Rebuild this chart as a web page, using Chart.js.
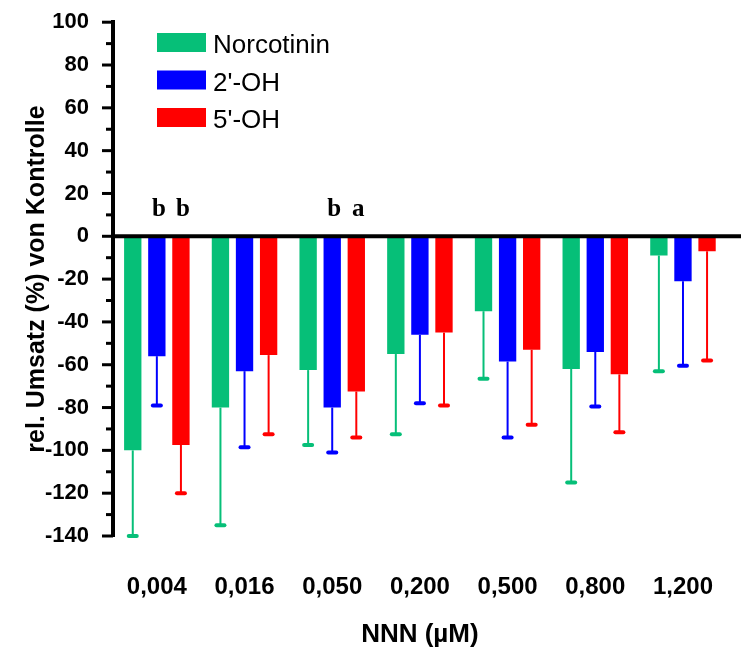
<!DOCTYPE html>
<html>
<head>
<meta charset="utf-8">
<script src="https://cdn.jsdelivr.net/npm/chart.js@4.4.0/dist/chart.umd.min.js"></script>
<style>
  html, body { margin: 0; padding: 0; background: #fff; overflow: hidden; }
  #wrap { position: relative; width: 750px; height: 652px; }
</style>
</head>
<body>
<div id="wrap"><canvas id="umsatzChart"></canvas></div>
<script>
var doses = ["0,004", "0,016", "0,050", "0,200", "0,500", "0,800", "1,200"];

var norcotinin = [-100, -80, -62.5, -55, -35, -62, -9];
var hydroxy2   = [-56, -63, -80, -46, -58.5, -54, -21];
var hydroxy5   = [-97.5, -55.5, -72.5, -45, -53, -64.5, -7];

// Standardabweichung, nur nach unten gezeichnet
var sdNorcotinin = [40, 55, 35, 37.5, 31.5, 53, 54];
var sdHydroxy2   = [23, 35.5, 21, 32, 35.5, 25.5, 39.5];
var sdHydroxy5   = [22.5, 37, 21.5, 34, 35, 27, 51];

// Signifikanz-Buchstaben über den Balken
var sigNorcotinin = ["", "", "", "", "", "", ""];
var sigHydroxy2   = ["b", "", "b", "", "", "", ""];
var sigHydroxy5   = ["b", "", "a", "", "", "", ""];

var yTicks = { min: -140, max: 100, major: 20, minor: 10 };

var SANS = "'Liberation Sans', Arial, sans-serif";
var SERIF = "'Liberation Serif', 'Times New Roman', serif";

var extras = {
  id: 'extras',
  afterDatasetsDraw: function(chart) {
    var ctx = chart.ctx, y = chart.scales.y, area = chart.chartArea;
    ctx.save();

    // Fehlerbalken
    chart.data.datasets.forEach(function(ds, i) {
      chart.getDatasetMeta(i).data.forEach(function(bar, j) {
        var yEnd = y.getPixelForValue(ds.data[j] - ds.sd[j]);
        ctx.strokeStyle = ds.backgroundColor;
        ctx.lineWidth = 2;
        ctx.lineCap = 'butt';
        ctx.beginPath();
        ctx.moveTo(bar.x, bar.y);
        ctx.lineTo(bar.x, yEnd);
        ctx.stroke();
        ctx.lineWidth = 4;
        ctx.lineCap = 'round';
        ctx.beginPath();
        ctx.moveTo(bar.x - 4, yEnd);
        ctx.lineTo(bar.x + 4, yEnd);
        ctx.stroke();
      });
    });

    // Nulllinie
    var y0 = y.getPixelForValue(0);
    ctx.strokeStyle = '#000';
    ctx.lineCap = 'butt';
    ctx.lineWidth = 4;
    ctx.beginPath();
    ctx.moveTo(area.left, y0);
    ctx.lineTo(chart.width, y0);
    ctx.stroke();

    // Haupt- und Nebenstriche der y-Achse
    ctx.lineWidth = 3;
    y.ticks.forEach(function(t) {
      var py = y.getPixelForValue(t.value);
      var len = t.value % yTicks.major === 0 ? 11 : 7;
      ctx.beginPath();
      ctx.moveTo(area.left - len, py);
      ctx.lineTo(area.left, py);
      ctx.stroke();
    });

    // Buchstaben
    ctx.fillStyle = '#000';
    ctx.font = 'bold 25px ' + SERIF;
    ctx.textAlign = 'center';
    ctx.textBaseline = 'alphabetic';
    chart.data.datasets.forEach(function(ds, i) {
      chart.getDatasetMeta(i).data.forEach(function(bar, j) {
        if (ds.sig[j]) ctx.fillText(ds.sig[j], bar.x + 2, y0 - 20);
      });
    });

    // Legende
    ctx.font = '26px ' + SANS;
    ctx.textAlign = 'left';
    chart.data.datasets.forEach(function(ds, i) {
      var top = 33 + i * 37.5;
      ctx.fillStyle = ds.backgroundColor;
      ctx.fillRect(157, top, 49, 19);
      ctx.fillStyle = '#000';
      ctx.fillText(ds.label, 213, top + 20);
    });

    ctx.restore();
  }
};

var ctx = document.getElementById('umsatzChart');
var umsatzChart = new Chart(ctx, {
  type: 'bar',
  data: {
    labels: doses,
    datasets: [
      { label: 'Norcotinin', data: norcotinin, sd: sdNorcotinin, sig: sigNorcotinin, backgroundColor: '#06BF78' },
      { label: "2'-OH", data: hydroxy2, sd: sdHydroxy2, sig: sigHydroxy2, backgroundColor: '#0000FF' },
      { label: "5'-OH", data: hydroxy5, sd: sdHydroxy5, sig: sigHydroxy5, backgroundColor: '#FF0000' }
    ]
  },
  options: {
    responsive: true,
    maintainAspectRatio: false,
    animation: false,
    categoryPercentage: 0.824,
    barPercentage: 0.72,
    layout: { padding: { left: 18, right: 0, top: 8, bottom: 0 } },
    plugins: {
      legend: { display: false },
      tooltip: { enabled: false }
    },
    scales: {
      x: {
        grid: { display: false, drawTicks: false },
        border: { display: false },
        ticks: {
          color: '#000',
          font: { family: SANS, size: 24, weight: 'bold' },
          padding: 37,
          maxRotation: 0,
          autoSkip: false
        },
        title: {
          display: true,
          text: 'NNN (\u00b5M)',
          color: '#000',
          font: { family: SANS, size: 26, weight: 'bold' },
          padding: { top: 4, bottom: 2 }
        },
        afterFit: function(scale) { scale.height = 116; }
      },
      y: {
        min: yTicks.min,
        max: yTicks.max,
        // Striche selbst gezeichnet (unterschiedliche Längen), hier nur Abstand für die Beschriftung
        grid: { display: true, drawOnChartArea: false, drawTicks: true, tickLength: 15, tickColor: 'rgba(0,0,0,0)' },
        border: { display: true, color: '#000', width: 4 },
        ticks: {
          stepSize: yTicks.minor,
          autoSkip: false,
          color: '#000',
          padding: 9,
          font: { family: SANS, size: 22, weight: 'bold' },
          callback: function(v) { return v % yTicks.major === 0 ? v : ''; }
        },
        title: {
          display: true,
          text: 'rel. Umsatz (%) von Kontrolle',
          color: '#000',
          font: { family: SANS, size: 25, weight: 'bold' },
          padding: { top: 4, bottom: 4 }
        },
        afterFit: function(scale) { scale.width = 95; }
      }
    }
  },
  plugins: [extras]
});
</script>
</body>
</html>
